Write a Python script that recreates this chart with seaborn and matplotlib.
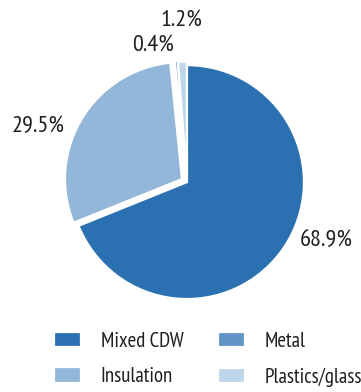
import matplotlib
matplotlib.use("Agg")
import matplotlib.pyplot as plt
import numpy as np
import seaborn as sns

# Composition of the waste stream (share of total, %)
categories = ["Mixed CDW", "Insulation", "Metal", "Plastics/glass"]
shares = [68.9, 29.5, 0.4, 1.2]
colors = ["#2b71b1", "#93b7d9", "#5f94c5", "#bed5ea"]

# Where each percentage label sits: angle (deg) and distance from the centre
label_angles = [-23, 159.4, 104, 91.8]
label_radii = [1.29, 1.36, 1.20, 1.38]

sns.set_theme(style="white")
plt.rcParams["font.family"] = ["PT Sans Narrow", "DejaVu Sans"]

fig = plt.figure(figsize=(3.61, 3.92), dpi=100)
ax = fig.add_axes([0.047, 0.102, 0.942, 0.867])

wedges, _ = ax.pie(
    shares,
    colors=colors,
    startangle=90,
    counterclock=False,
    explode=[0, 0.05, 0.04, 0.03],
    wedgeprops=dict(edgecolor="white", linewidth=1.6),
)

for share, ang, rad in zip(shares, label_angles, label_radii):
    t = np.deg2rad(ang)
    ax.text(rad * np.cos(t), rad * np.sin(t), f"{share:.1f}%",
            ha="center", va="center", fontsize=17.5, color="#231f20")

lim = 170 / 117
ax.set_xlim(-lim, lim)
ax.set_ylim(-lim, lim)
ax.set_aspect("equal")
ax.axis("off")

fig.legend(
    wedges, categories,
    loc="center", bbox_to_anchor=(0.576, 0.084),
    ncol=2, frameon=False, fontsize=15,
    handlelength=1.3, handleheight=0.77, handletextpad=0.96,
    columnspacing=1.63, labelspacing=0.8, borderpad=0,
    labelcolor="#231f20",
)

fig.savefig("out.png", dpi=100)
